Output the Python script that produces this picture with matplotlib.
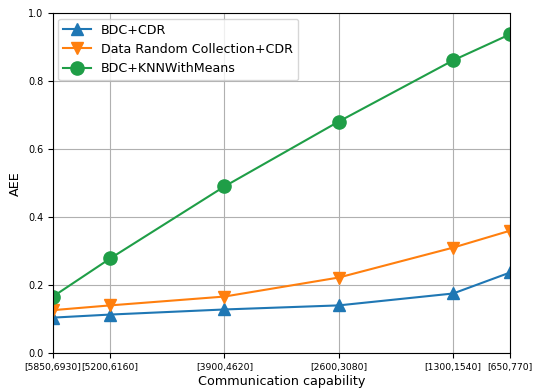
import matplotlib
matplotlib.use("Agg")
import matplotlib.pyplot as plt

# Communication capability ranges (plotted at their upper bound, axis reversed)
cap_labels = ["[5850,6930]", "[5200,6160]", "[3900,4620]",
              "[2600,3080]", "[1300,1540]", "[650,770]"]
cap_upper = [6930, 6160, 4620, 3080, 1540, 770]

bdc_cdr = [0.105, 0.114, 0.129, 0.141, 0.176, 0.238]
random_cdr = [0.127, 0.141, 0.167, 0.223, 0.311, 0.361]
bdc_knn = [0.167, 0.279, 0.491, 0.682, 0.862, 0.939]

fig = plt.figure(figsize=(5.33, 3.92), dpi=100)
ax = fig.add_axes([0.0994, 0.0987, 0.858, 0.867])

ax.plot(cap_upper, bdc_cdr, marker="^", markersize=9, lw=1.5,
        color="#1f77b4", label="BDC+CDR")
ax.plot(cap_upper, random_cdr, marker="v", markersize=9, lw=1.5,
        color="#ff7f0e", label="Data Random Collection+CDR")
ax.plot(cap_upper, bdc_knn, marker="o", markersize=9.5, lw=1.5,
        color="#1f9e47", label="BDC+KNNWithMeans")

ax.set_xlim(6930, 770)
ax.set_ylim(0, 1.0)
ax.set_xticks(cap_upper)
ax.set_xticklabels(cap_labels, fontsize=6.7)
ax.set_yticks([0.0, 0.2, 0.4, 0.6, 0.8, 1.0])
ax.tick_params(axis="y", labelsize=7)
ax.grid(True, color="#b0b0b0", lw=0.8)

ax.set_xlabel("Communication capability", fontsize=9.2, labelpad=2)
ax.set_ylabel("AEE", fontsize=9.2)
ax.legend(loc="upper left", fontsize=9.1, handlelength=2.2,
          borderaxespad=0.4)

fig.savefig("out.png", dpi=100)
